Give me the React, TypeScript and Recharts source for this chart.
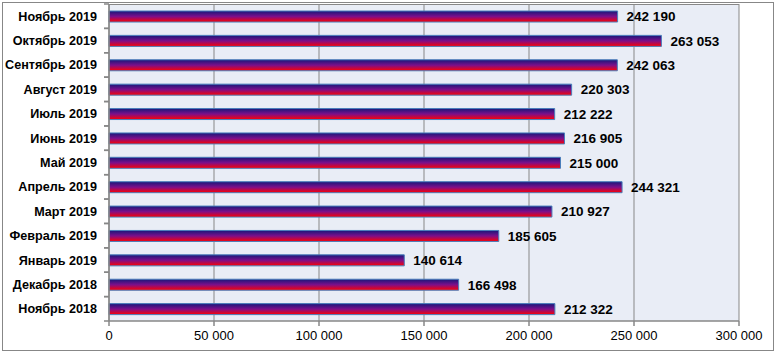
import React from "react";
import {
  BarChart,
  Bar,
  XAxis,
  YAxis,
  CartesianGrid,
  LabelList,
} from "recharts";

const months = [
  "Ноябрь 2019",
  "Октябрь 2019",
  "Сентябрь 2019",
  "Август 2019",
  "Июль 2019",
  "Июнь 2019",
  "Май 2019",
  "Апрель 2019",
  "Март 2019",
  "Февраль 2019",
  "Январь 2019",
  "Декабрь 2018",
  "Ноябрь 2018",
];

const values = [
  242190, 263053, 242063, 220303, 212222, 216905, 215000, 244321, 210927,
  185605, 140614, 166498, 212322,
];

const xTicks = [0, 50000, 100000, 150000, 200000, 250000, 300000];

const data = months.map((m, i) => ({ month: m, value: values[i] }));

const fmt = (v: number) =>
  String(Math.round(v)).replace(/\B(?=(\d{3})+(?!\d))/g, " ");

const FONT = "'Liberation Sans', Arial, sans-serif";
const GRAY = "#878787";

const W = 777;
const H = 354;
const TOP = 4;
const BOTTOM_AXIS = 33;
const band = (H - TOP - BOTTOM_AXIS) / months.length;

const YTick = (props: any) => {
  const { x, y, payload } = props;
  return (
    <g>
      <line x1={x + 3} x2={x + 8} y1={y - band / 2} y2={y - band / 2} stroke={GRAY} strokeWidth={1.5} />
      <line x1={x + 3} x2={x + 8} y1={y + band / 2} y2={y + band / 2} stroke={GRAY} strokeWidth={1.5} />
      <text
        x={x - 4}
        y={y}
        dy={4.5}
        textAnchor="end"
        fontFamily={FONT}
        fontSize={12.6}
        fontWeight="bold"
        fill="#000"
      >
        {payload.value}
      </text>
    </g>
  );
};

const XTick = (props: any) => {
  const { x, y, payload } = props;
  return (
    <text
      x={x}
      y={y}
      dy={12}
      textAnchor="middle"
      fontFamily={FONT}
      fontSize={13}
      fill="#000"
    >
      {fmt(payload.value)}
    </text>
  );
};

export default function App() {
  return (
    <div style={{ position: "absolute", left: 0, top: 0, width: W, height: H, background: "#fff" }}>
      <div
        style={{
          position: "absolute",
          left: 2,
          top: 2,
          width: 772,
          height: 349,
          border: `1.5px solid ${GRAY}`,
          boxSizing: "border-box",
        }}
      />
      <div style={{ position: "absolute", left: 0, top: 0 }}>
        <BarChart
          width={W}
          height={H}
          data={data}
          layout="vertical"
          margin={{ top: TOP, right: 38, bottom: 0, left: 0 }}
          barSize={11}
        >
          <defs>
            <linearGradient id="barGrad" x1="0" y1="0" x2="0" y2="1">
              <stop offset="0%" stopColor="#17187a" />
              <stop offset="50%" stopColor="#7d0f8a" />
              <stop offset="100%" stopColor="#ff0000" />
            </linearGradient>
          </defs>
          <CartesianGrid
            fill="#E9EDF6"
            stroke={GRAY}
            strokeWidth={1}
            horizontal={true}
            horizontalPoints={[TOP + 0.5]}
            vertical={true}
          />
          <XAxis
            type="number"
            domain={[0, 300000]}
            ticks={xTicks}
            height={BOTTOM_AXIS}
            axisLine={{ stroke: GRAY, strokeWidth: 1.5 }}
            tickLine={{ stroke: GRAY, strokeWidth: 1.5 }}
            tickSize={5}
            tick={<XTick />}
            interval={0}
          />
          <YAxis
            type="category"
            dataKey="month"
            width={109}
            axisLine={{ stroke: GRAY, strokeWidth: 1.5 }}
            tickLine={false}
            tick={<YTick />}
            interval={0}
          />
          <Bar
            dataKey="value"
            fill="url(#barGrad)"
            stroke="#4a7ebb"
            strokeWidth={1}
            isAnimationActive={false}
          >
            <LabelList
              dataKey="value"
              position="right"
              offset={9}
              formatter={(v: any) => fmt(Number(v))}
              style={{ fontFamily: FONT, fontSize: 13.5, fontWeight: "bold", fill: "#000" }}
            />
          </Bar>
        </BarChart>
      </div>
    </div>
  );
}
